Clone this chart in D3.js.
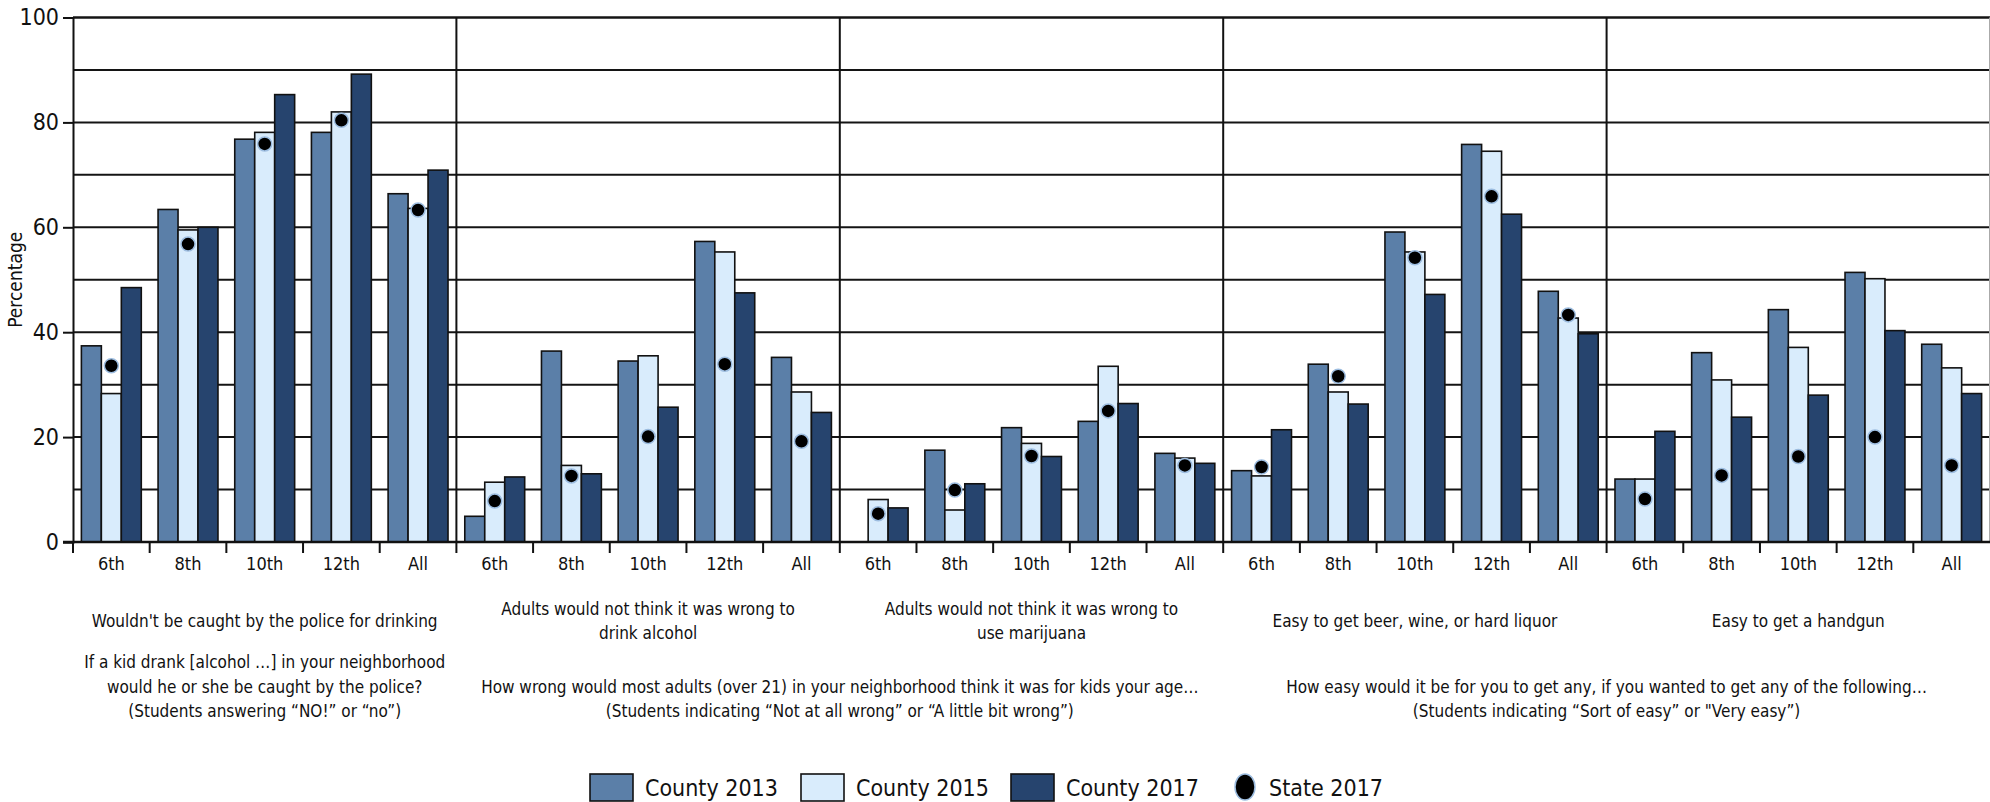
<!DOCTYPE html>
<html lang="en">
	<head>
		<meta charset="utf-8">
		<title> county vs state </title>
		<script src="https://d3js.org/d3.v7.min.js"></script>
		<style type="text/css">
			body { margin: 0; background: #fff; }
			text { font-family: "Liberation Sans Narrow", "DejaVu Sans Condensed", sans-serif; fill: #111; }
		</style>
	</head>

	<body>
		<script type="text/javascript">
			// window setup
			var w = 1990
			var h = 802
			var margin = { top: 17.5, right: 0, bottom: 260, left: 73 }

			// data
			var grades = ["6th", "8th", "10th", "12th", "All"]
			var topics = [
				["Wouldn't be caught by the police for drinking"],
				["Adults would not think it was wrong to", "drink alcohol"],
				["Adults would not think it was wrong to", "use marijuana"],
				["Easy to get beer, wine, or hard liquor"],
				["Easy to get a handgun"]
			]
			var questions = [
				{ from: 0, to: 0, lines: ["If a kid drank [alcohol …] in your neighborhood", "would he or she be caught by the police?", "(Students answering \u201CNO!\u201D or \u201Cno\u201D)"] },
				{ from: 1, to: 2, lines: ["How wrong would most adults (over 21) in your neighborhood think it was for kids your age…", "(Students indicating \u201CNot at all wrong\u201D or \u201CA little bit wrong\u201D)"] },
				{ from: 3, to: 4, lines: ["How easy would it be for you to get any, if you wanted to get any of the following…", "(Students indicating \u201CSort of easy\u201D or \"Very easy\u201D)"] }
			]
			var seriesNames = ["County 2013", "County 2015", "County 2017"]
			var seriesColors = ["#5b7fa8", "#d9ecfc", "#26446e"]
			var stateName = "State 2017"

			// one value per topic x grade, topics in order
			var county2013 = [37.4, 63.4, 76.8, 78.1, 66.4,  4.9, 36.4, 34.5, 57.3, 35.2,  null, 17.5, 21.8, 23.0, 16.9,  13.6, 33.9, 59.1, 75.8, 47.8,  12.0, 36.1, 44.3, 51.4, 37.7]
			var county2015 = [28.3, 59.5, 78.1, 82.0, 63.6,  11.4, 14.6, 35.5, 55.3, 28.6,  8.1, 6.1, 18.8, 33.5, 16.0,  12.6, 28.6, 55.3, 74.5, 42.7,  12.0, 30.9, 37.1, 50.2, 33.2]
			var county2017 = [48.5, 60.0, 85.3, 89.2, 70.9,  12.4, 13.0, 25.7, 47.5, 24.7,  6.5, 11.1, 16.3, 26.4, 15.0,  21.4, 26.3, 47.2, 62.5, 39.7,  21.1, 23.8, 28.0, 40.3, 28.3]
			var state2017  = [33.6, 56.8, 75.9, 80.4, 63.3,  7.8, 12.6, 20.1, 33.9, 19.2,  5.4, 9.9, 16.4, 25.0, 14.6,  14.3, 31.6, 54.2, 65.9, 43.3,  8.2, 12.7, 16.3, 20.0, 14.6]
			var county = [county2013, county2015, county2017]

			var yTicks = [0, 20, 40, 60, 80, 100]
			var yGrid = d3.range(10, 101, 10)

			// build rows
			var rows = []
			topics.forEach(function(t, ti) {
				grades.forEach(function(g, gi) {
					var k = ti * grades.length + gi
					rows.push({ key: ti + "-" + g, topic: ti, grade: g,
						values: county.map(function(s) { return s[k] }), state: state2017[k] })
				})
			})

			// scales
			var pw = w - margin.left - margin.right
			var ph = h - margin.top - margin.bottom

			var xTopic = d3.scaleBand().domain(d3.range(topics.length)).range([0, pw])
			var xGrade = d3.scaleBand().domain(grades).range([0, xTopic.bandwidth()])
			var xSeries = d3.scaleBand().domain(d3.range(3)).range([0, xGrade.bandwidth()]).paddingOuter(0.42)
			var y = d3.scaleLinear().domain([0, 100]).range([ph, 0])

			var svg = d3.select("body")
						.append("svg")
						.attr("width", w)
						.attr("height", h)

			var g = svg.append("g").attr("transform", "translate(" + margin.left + "," + margin.top + ")")

			// gridlines
			g.selectAll("line.grid")
				.data(yGrid)
				.enter()
				.append("line")
				.attr("class", "grid")
				.attr("x1", 0).attr("x2", pw)
				.attr("y1", function(d) { return y(d) })
				.attr("y2", function(d) { return y(d) })
				.style("stroke", "#141414")
				.style("stroke-width", function(d) { return d == 100 ? 2.6 : 2 })

			// topic dividers
			g.selectAll("line.div")
				.data(d3.range(1, topics.length))
				.enter()
				.append("line")
				.attr("class", "div")
				.attr("x1", function(d) { return xTopic(d) })
				.attr("x2", function(d) { return xTopic(d) })
				.attr("y1", 0).attr("y2", ph)
				.style("stroke", "#111")
				.style("stroke-width", 2)

			g.append("line")
				.attr("x1", pw - 0.5).attr("x2", pw - 0.5)
				.attr("y1", 0).attr("y2", ph)
				.style("stroke", "#aaa")
				.style("stroke-width", 1)

			// bars
			var cells = g.selectAll("g.cell")
						.data(rows)
						.enter()
						.append("g")
						.attr("class", "cell")
						.attr("transform", function(d) { return "translate(" + (xTopic(d.topic) + xGrade(d.grade)) + ",0)" })

			cells.selectAll("rect")
				.data(function(d) { return d.values.map(function(v, i) { return { i: i, v: v } }).filter(function(e) { return e.v != null }) })
				.enter()
				.append("rect")
				.attr("x", function(d) { return xSeries(d.i) })
				.attr("width", xSeries.bandwidth())
				.attr("y", function(d) { return y(d.v) })
				.attr("height", function(d) { return y(0) - y(d.v) })
				.style("fill", function(d) { return seriesColors[d.i] })
				.style("stroke", "#111")
				.style("stroke-width", 1.6)

			// state dots
			cells.append("circle")
				.attr("cx", xSeries(1) + xSeries.bandwidth() / 2)
				.attr("cy", function(d) { return y(d.state) })
				.attr("r", 7)
				.style("fill", "#000")
				.style("stroke", "#9dbde0")
				.style("stroke-width", 1.5)

			// y axis
			var yAxis = g.append("g")
						.call(d3.axisLeft(y).tickValues(yTicks).tickSize(10).tickPadding(4))
			yAxis.select(".domain").style("stroke", "#111").style("stroke-width", 2)
			yAxis.selectAll(".tick line").style("stroke", "#111").style("stroke-width", 2)
			yAxis.selectAll("text").style("font-size", "23px").style("fill", "#111")

			// x axis: base line + ticks on category boundaries
			g.append("line")
				.attr("x1", -10).attr("x2", pw)
				.attr("y1", ph).attr("y2", ph)
				.style("stroke", "#111")
				.style("stroke-width", 2.6)

			var xt = g.selectAll("g.xt")
					.data(rows)
					.enter()
					.append("g")
					.attr("class", "xt")
					.attr("transform", function(d) { return "translate(" + (xTopic(d.topic) + xGrade(d.grade)) + "," + ph + ")" })
			xt.append("line")
				.attr("y1", 0).attr("y2", 11)
				.style("stroke", "#111").style("stroke-width", 2)
			xt.append("text")
				.attr("x", xGrade.bandwidth() / 2)
				.attr("y", 28)
				.attr("text-anchor", "middle")
				.style("font-size", "18px")
				.text(function(d) { return d.grade })

			// topic titles
			var titleBase = 620.6 - margin.top
			g.selectAll("text.topic")
				.data(topics)
				.enter()
				.append("text")
				.attr("class", "topic")
				.attr("text-anchor", "middle")
				.attr("x", function(d, i) { return xTopic(i) + xTopic.bandwidth() / 2 })
				.attr("y", function(d) { return titleBase - (d.length - 1) * 12 + 6 })
				.style("font-size", "17px")
				.selectAll("tspan")
				.data(function(d) { return d })
				.enter()
				.append("tspan")
				.attr("x", function() { var p = this.parentNode; return p.getAttribute("x") })
				.attr("dy", function(d, i) { return i == 0 ? 0 : 24 })
				.text(function(d) { return d })

			// question texts
			g.selectAll("text.q")
				.data(questions)
				.enter()
				.append("text")
				.attr("class", "q")
				.attr("text-anchor", "middle")
				.attr("x", function(d) { return (xTopic(d.from) + xTopic(d.to) + xTopic.bandwidth()) / 2 })
				.attr("y", function(d) { return 711 - margin.top + 6 - (d.lines.length - 1) * 24.5 })
				.style("font-size", "17px")
				.selectAll("tspan")
				.data(function(d) { return d.lines })
				.enter()
				.append("tspan")
				.attr("x", function() { return this.parentNode.getAttribute("x") })
				.attr("dy", function(d, i) { return i == 0 ? 0 : 24.5 })
				.text(function(d) { return d })

			// legend
			var legend = svg.append("g").attr("transform", "translate(0,787)")
			var legendX = [590, 801, 1011]
			seriesNames.forEach(function(name, i) {
				legend.append("rect")
					.attr("x", legendX[i]).attr("y", -13)
					.attr("width", 43).attr("height", 27)
					.style("fill", seriesColors[i])
					.style("stroke", "#111")
					.style("stroke-width", 1.6)
				legend.append("text")
					.attr("x", legendX[i] + 55).attr("y", 9)
					.style("font-size", "23px")
					.text(name)
			})
			legend.append("ellipse")
				.attr("cx", 1245).attr("cy", 0)
				.attr("rx", 10).attr("ry", 13)
				.style("fill", "#000")
				.style("stroke", "#9dbde0")
				.style("stroke-width", 1.5)
			legend.append("text")
				.attr("x", 1269).attr("y", 9)
				.style("font-size", "23px")
				.text(stateName)

			// y label
			svg.append("text")
				.attr("transform", "translate(22," + (margin.top + ph / 2) + ") rotate(-90)")
				.attr("text-anchor", "middle")
				.style("font-size", "19px")
				.text("Percentage")
		</script>
	</body>
</html>
